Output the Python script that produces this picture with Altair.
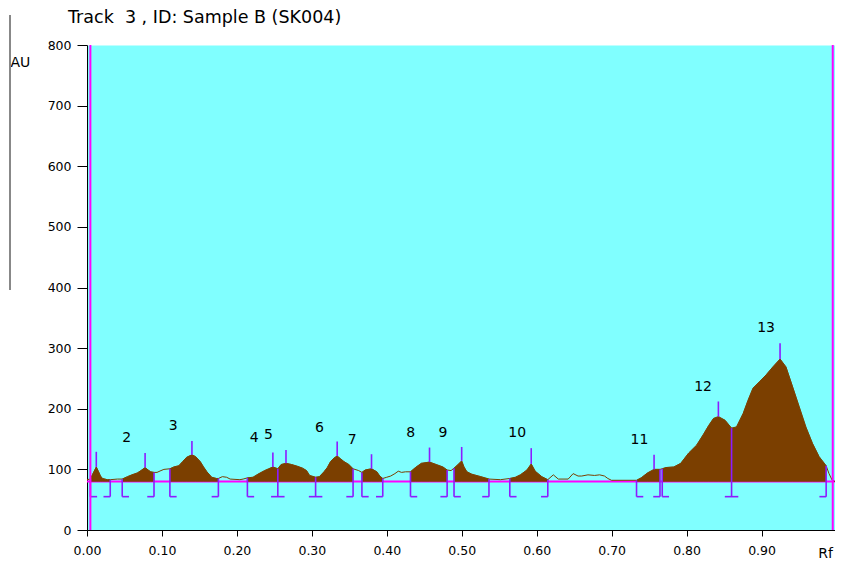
import altair as alt
import pandas as pd
import numpy as np

# ---- densitogram trace (Rf, AU) ----
rf = [0.000, 0.0045, 0.0075, 0.0124, 0.0155, 0.018, 0.0207, 0.027, 0.031, 0.0406,
      0.047, 0.054, 0.060, 0.067, 0.072, 0.0775, 0.0815, 0.085, 0.0894, 0.0934,
      0.0987, 0.1026, 0.1106, 0.1159, 0.1225, 0.1277, 0.133, 0.140, 0.145, 0.151,
      0.1555, 0.160, 0.1664, 0.1727, 0.1753, 0.1806, 0.1863, 0.191, 0.204, 0.2083,
      0.214, 0.2215, 0.228, 0.237, 0.2425, 0.248, 0.2546, 0.259, 0.2655, 0.273,
      0.281, 0.2876, 0.2929, 0.297, 0.305, 0.310, 0.3162, 0.3206, 0.325, 0.3299,
      0.3338, 0.3378, 0.3427, 0.3493, 0.355, 0.3625, 0.3668, 0.3712, 0.3796, 0.3867,
      0.3906, 0.3946, 0.3999, 0.4052, 0.4108, 0.4153, 0.4197, 0.425, 0.4316, 0.4382,
      0.4461, 0.457, 0.4659, 0.4748, 0.4805, 0.4857, 0.4897, 0.495, 0.4999, 0.503,
      0.5069, 0.5135, 0.5254, 0.5363, 0.5518, 0.5641, 0.5716, 0.5782, 0.587, 0.5927,
      0.598, 0.6068, 0.6148, 0.6222, 0.6288, 0.642, 0.6486, 0.6552, 0.660, 0.6684,
      0.6772, 0.6839, 0.6905, 0.6949, 0.6998, 0.7332, 0.7394, 0.7477, 0.7566, 0.7645,
      0.7675, 0.7724, 0.783, 0.7922, 0.8028, 0.8134, 0.8226, 0.8293, 0.8359, 0.8424,
      0.8513, 0.860, 0.8666, 0.8754, 0.882, 0.8886, 0.8975, 0.9062, 0.9151, 0.9247,
      0.9326, 0.9415, 0.9503, 0.9591, 0.9679, 0.9768, 0.9862, 0.990, 0.9943, 0.998]
au = [83, 84, 92, 104, 96, 89, 85, 83, 83, 84,
      84, 88, 91, 94, 98, 103, 99, 96, 95, 95,
      98, 100, 101, 104, 106, 113, 120, 124, 121, 113,
      104, 96, 87, 85, 85, 88, 87, 84, 83, 84,
      86, 87, 92, 98, 101, 104, 101, 108, 110, 108,
      105, 102, 98, 90, 87, 88, 96, 103, 113, 119,
      122, 118, 113, 108, 101, 98, 95, 99, 101, 96,
      89, 85, 87, 89, 93, 97, 95, 96, 96, 103,
      110, 112, 108, 104, 99, 98, 102, 108, 114, 104,
      96, 92, 88, 84, 83, 85, 87, 91, 99, 109,
      97, 88, 83, 91, 84, 84, 93, 89, 89, 91,
      90, 91, 89, 85, 82, 82, 86, 94, 100, 100,
      101, 103, 104, 110, 127, 140, 158, 172, 184, 187,
      181, 168, 170, 192, 214, 234, 245, 256, 269, 282,
      269, 236, 203, 170, 143, 121, 106, 93, 82, 80]

# integrated peak windows
seg_start = [0.0045, 0.047, 0.1106, 0.214, 0.3668, 0.4316, 0.4897, 0.5641, 0.7332, 0.7675]
seg_end = [0.031, 0.0894, 0.1753, 0.355, 0.3946, 0.4805, 0.5363, 0.6148, 0.7645, 0.9862]
splits = [0.2546, 0.305, 0.860]

# peak maxima markers
peak_rf = [0.0124, 0.0775, 0.140, 0.248, 0.2655, 0.3338, 0.3796, 0.457, 0.4999,
           0.5927, 0.7566, 0.8424, 0.9247]
peak_top = [129, 127, 147, 128, 132, 146, 125, 136, 137, 135, 124, 212, 308]

# peak labels
label_text = ["2", "3", "4", "5", "6", "7", "8", "9", "10", "11", "12", "13"]
label_rf = [0.053, 0.115, 0.223, 0.242, 0.310, 0.354, 0.432, 0.475, 0.574, 0.737, 0.822, 0.906]
label_au = [152, 172, 152, 157, 168, 148, 160, 160, 160, 148, 236, 333]

BASE = 80
BR_BOTTOM = 55
TICK = 0.009
front_lines = [0.0045, 0.995]

BROWN = "#7B3F00"
PURPLE = "#8C1CFF"
MAGENTA = "#FF00FF"
FONT = "DejaVu Sans"

rf_a = np.array(rf)
au_a = np.array(au)

curve = pd.DataFrame({"rf": rf, "au": au})

rows = []
for i, (s, e) in enumerate(zip(seg_start, seg_end)):
    for x, y in zip(rf, au):
        if s - 1e-9 <= x <= e + 1e-9:
            rows.append({"rf": x, "au": y, "seg": f"s{i}", "base": BASE})
areas = pd.DataFrame(rows)

vrows, hrows = [], []
for s in seg_start:
    vrows.append({"rf": s, "y1": float(np.interp(s, rf_a, au_a)), "y2": BR_BOTTOM})
    hrows.append({"x1": s, "x2": s + TICK, "y": BR_BOTTOM})
for e in seg_end:
    vrows.append({"rf": e, "y1": float(np.interp(e, rf_a, au_a)), "y2": BR_BOTTOM})
    hrows.append({"x1": e - TICK, "x2": e, "y": BR_BOTTOM})
for p in splits:
    vrows.append({"rf": p, "y1": float(np.interp(p, rf_a, au_a)), "y2": BR_BOTTOM})
    hrows.append({"x1": p - TICK, "x2": p + TICK, "y": BR_BOTTOM})
for p, t in zip(peak_rf, peak_top):
    vrows.append({"rf": p, "y1": t, "y2": float(np.interp(p, rf_a, au_a))})
vlines = pd.DataFrame(vrows)
hlines = pd.DataFrame(hrows)

labels = pd.DataFrame({"t": label_text, "rf": label_rf, "au": label_au})
fronts = pd.DataFrame({"rf": front_lines, "y1": [0, 0], "y2": [800, 800]})
baseline = pd.DataFrame({"x1": [0.0], "x2": [0.998], "y": [BASE]})

xscale = alt.Scale(domain=[0, 0.998], nice=False, zero=False)
yscale = alt.Scale(domain=[0, 800], nice=False)

xaxis = alt.Axis(values=[0, 0.1, 0.2, 0.3, 0.4, 0.5, 0.6, 0.7, 0.8, 0.9], format=".2f",
                 tickSize=6, labelPadding=8, labelFlush=False, grid=False,
                 domainColor="black", tickColor="black",
                 labelColor="black", labelFont=FONT, labelFontSize=12.5,
                 title="Rf", titleX=738, titleY=30, titleAlign="center", titleBaseline="bottom",
                 titleFont=FONT, titleFontSize=14, titleFontWeight="normal", titleColor="black")
yaxis = alt.Axis(values=[0, 100, 200, 300, 400, 500, 600, 700, 800],
                 tickSize=10, labelPadding=6, labelFlush=False, grid=False,
                 domainColor="black", tickColor="black",
                 labelColor="black", labelFont=FONT, labelFontSize=12.5,
                 title="AU", titleAngle=0, titleX=-77, titleY=17, titleAlign="left",
                 titleBaseline="middle", titleFont=FONT, titleFontSize=14,
                 titleFontWeight="normal", titleColor="black")

base_rule = alt.Chart(baseline).mark_rule(color=MAGENTA, strokeWidth=2).encode(
    x=alt.X("x1:Q", scale=xscale, axis=xaxis), x2="x2:Q",
    y=alt.Y("y:Q", scale=yscale, axis=yaxis))

area = alt.Chart(areas).mark_area(fill=BROWN, stroke=BROWN, strokeWidth=0.5,
                                  interpolate="linear").encode(
    x=alt.X("rf:Q", scale=xscale), y=alt.Y("au:Q", scale=yscale),
    y2=alt.Y2("base:Q"), detail=alt.Detail("seg:N"))

line = alt.Chart(curve).mark_line(color=BROWN, strokeWidth=1).encode(
    x=alt.X("rf:Q", scale=xscale), y=alt.Y("au:Q", scale=yscale), order="rf:Q")

vr = alt.Chart(vlines).mark_rule(color=PURPLE, strokeWidth=1.6).encode(
    x=alt.X("rf:Q", scale=xscale), y=alt.Y("y1:Q", scale=yscale), y2="y2:Q")

hr = alt.Chart(hlines).mark_rule(color=PURPLE, strokeWidth=1.6).encode(
    x=alt.X("x1:Q", scale=xscale), x2="x2:Q", y=alt.Y("y:Q", scale=yscale))

fr = alt.Chart(fronts).mark_rule(color=MAGENTA, strokeWidth=2).encode(
    x=alt.X("rf:Q", scale=xscale), y=alt.Y("y1:Q", scale=yscale), y2="y2:Q")

txt = alt.Chart(labels).mark_text(font=FONT, fontSize=14, color="black",
                                  align="center", baseline="middle").encode(
    x=alt.X("rf:Q", scale=xscale), y=alt.Y("au:Q", scale=yscale), text="t:N")

side = alt.Chart(baseline).mark_rule(color="#888888", strokeWidth=2).encode(
    x=alt.value(-77), y=alt.value(-30), y2=alt.value(245))

chart = alt.layer(base_rule, area, line, vr, hr, fr, txt, side).properties(
    width=748, height=485,
    background="white",
    title=alt.TitleParams("Track\u00a0 3 , ID: Sample B (SK004)", anchor="start", frame="group",
                          dx=-19, offset=-12, fontSize=17.5, fontWeight="normal", font=FONT,
                          color="black"),
    autosize=alt.AutoSizeParams(type="none"),
    padding={"left": 79, "top": 37, "right": 0, "bottom": 30},
).configure_view(fill="#80FFFF", strokeOpacity=0)

chart.save("out.html", embed_options={"renderer": "svg", "actions": False})
